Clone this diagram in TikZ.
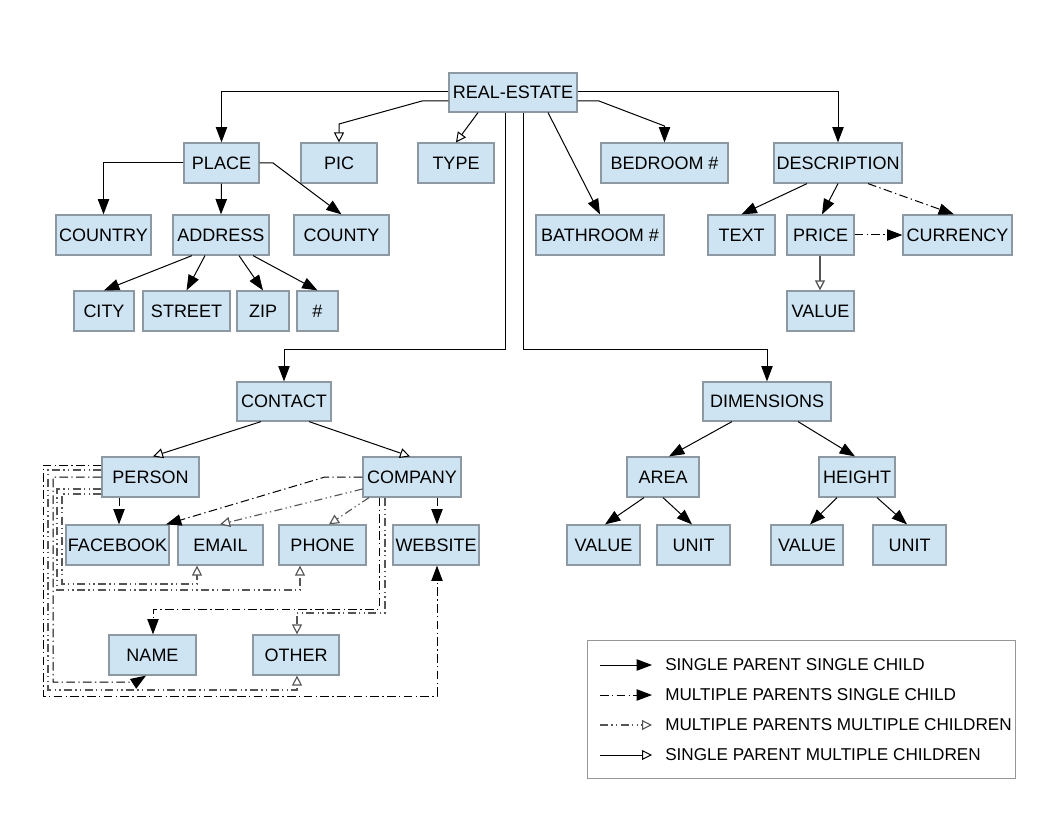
\documentclass[tikz,border=0pt]{standalone}
\usepackage{fontspec}
\setmainfont{Liberation Sans}
\usetikzlibrary{arrows.meta,calc}
\definecolor{boxfill}{RGB}{207,228,242}
\definecolor{boxline}{RGB}{140,152,162}
\definecolor{lgray}{RGB}{85,85,85}
\definecolor{legline}{RGB}{150,150,150}
\newcommand{\bx}[6]{\node[box, minimum width={(#4-#2)*0.75pt}, minimum height={(#5-#3)*0.75pt}] (#1) at ({(#2+#4)/2},{(#3+#5)/2}) {#6};}
\begin{document}
\begin{tikzpicture}[x=0.75pt,y=-0.75pt,
  box/.style={draw=boxline, fill=boxfill, line width=0.9pt, inner sep=0pt, font=\fontsize{13.5}{16}\selectfont},
  legtext/.style={anchor=west, inner sep=0pt, font=\fontsize{12.85}{15}\selectfont},
  fa/.style={-{Triangle[length=11.5pt,width=8.5pt]}},
  oa/.style={-{Triangle[length=7.5pt,width=7.5pt,fill=white]}},
  spsc/.style={draw=black, line width=0.75pt, fa},
  spmc/.style={draw=black, line width=0.75pt, oa},
  mpsc/.style={draw=black, line width=0.75pt, dash pattern=on 6.5pt off 2.5pt on 1pt off 2.5pt, fa},
  mpmc/.style={draw=lgray, line width=0.85pt, dash pattern=on 6pt off 2.5pt on 1pt off 2.5pt on 1pt off 2.5pt, oa},
]
\useasboundingbox (0,0) rectangle (1056,816);
\fill[white] (0,0) rectangle (1056,816);

% nodes
\bx{re}{449}{73}{577}{112}{REAL-ESTATE}
\bx{place}{184}{143}{259}{183}{PLACE}
\bx{pic}{301}{143}{377}{183}{PIC}
\bx{type}{418}{143}{494}{183}{TYPE}
\bx{bed}{601}{143}{728}{183}{BEDROOM \#}
\bx{desc}{774}{143}{902}{183}{DESCRIPTION}
\bx{country}{56}{215}{151}{255}{COUNTRY}
\bx{address}{173}{215}{269}{255}{ADDRESS}
\bx{county}{294}{215}{389}{255}{COUNTY}
\bx{bath}{536}{215}{664}{255}{BATHROOM \#}
\bx{text}{708}{215}{775}{255}{TEXT}
\bx{price}{787}{215}{854}{255}{PRICE}
\bx{currency}{903}{215}{1012}{255}{CURRENCY}
\bx{city}{74}{291}{134}{331}{CITY}
\bx{street}{143}{291}{230}{331}{STREET}
\bx{zip}{237}{291}{289}{331}{ZIP}
\bx{num}{297}{291}{338}{331}{\#}
\bx{pvalue}{787}{291}{854}{331}{VALUE}
\bx{contact}{237}{382}{331}{421}{CONTACT}
\bx{dim}{703}{382}{831}{421}{DIMENSIONS}
\bx{person}{102}{457}{199}{497}{PERSON}
\bx{company}{363}{457}{461}{497}{COMPANY}
\bx{area}{627}{457}{699}{497}{AREA}
\bx{height}{819}{457}{895}{497}{HEIGHT}
\bx{facebook}{66}{525}{169}{565}{FACEBOOK}
\bx{email}{178}{525}{263}{565}{EMAIL}
\bx{phone}{279}{525}{366}{565}{PHONE}
\bx{website}{393}{525}{479}{565}{WEBSITE}
\bx{avalue}{567}{525}{640}{565}{VALUE}
\bx{aunit}{657}{525}{730}{565}{UNIT}
\bx{hvalue}{771}{525}{843}{565}{VALUE}
\bx{hunit}{873}{525}{946}{565}{UNIT}
\bx{name}{109}{635}{196}{675}{NAME}
\bx{other}{253}{635}{339}{675}{OTHER}

% REAL-ESTATE connectors
\draw[spsc] (re.west |- 0,92) -| (place.north);
\draw[spmc] (re.west |- 0,101) -- (422,101) -- (pic.north |- 0,124) -- (pic.north);
\draw[spmc] (re.south -| 478,0) -- (type.north);
\draw[spsc] (re.south -| 548,0) -- (bath.north);
\draw[spsc] (re.east |- 0,101) -- (599,101) -- (bed.north |- 0,126) -- (bed.north);
\draw[spsc] (re.east |- 0,92) -| (desc.north);
\draw[spsc] (re.south -| 505,0) -- (505,350) -| (contact.north);
\draw[spsc] (re.south -| 523,0) -- (523,350) -| (dim.north);

% PLACE
\draw[spsc] (place.west) -| (country.north);
\draw[spsc] (place.south) -- (address.north);
\draw[spsc] (place.east) -- (273,163) -- (county.north);
\draw[spsc] (address.south -| 192,0) -- (city.north);
\draw[spsc] (address.south -| 205,0) -- (street.north);
\draw[spsc] (address.south -| 239,0) -- (zip.north);
\draw[spsc] (address.south -| 253,0) -- (num.north);

% DESCRIPTION
\draw[spsc] (desc.south -| 807,0) -- (text.north);
\draw[spsc] (desc.south -| 838,0) -- (price.north -| 822,0);
\draw[mpsc] (desc.south -| 868,0) -- (currency.north -| 954,0);
\draw[mpsc] (price.east) -- (currency.west);
\draw[spmc, draw=lgray, line width=1pt] (price.south -| 820,0) -- (pvalue.north -| 820,0);

% CONTACT
\draw[spmc] (contact.south -| 261,0) -- (person.north -| 153,0);
\draw[spmc] (contact.south -| 309,0) -- (company.north -| 410,0);

% DIMENSIONS
\draw[spsc] (dim.south -| 732,0) -- (area.north -| 669,0);
\draw[spsc] (dim.south -| 798,0) -- (height.north -| 855,0);
\draw[spsc] (area.south -| 644,0) -- (avalue.north -| 605,0);
\draw[spsc] (area.south -| 663,0) -- (aunit.north -| 692,0);
\draw[spsc] (height.south -| 837,0) -- (hvalue.north -| 810,0);
\draw[spsc] (height.south -| 877,0) -- (hunit.north -| 907,0);

% PERSON / COMPANY
\draw[mpsc] (person.south -| 119,0) -- (facebook.north -| 119,0);
\draw[mpsc] (company.west |- 0,477) -- (325,477) -- (facebook.north -| 166,0);
\draw[mpmc] (company.west |- 0,489) -- (email.north -| 220,0);
\draw[mpmc] (company.south -| 369,0) -- (phone.north -| 329,0);
\draw[mpsc] (company.south -| 437,0) -- (website.north -| 437,0);
\draw[mpsc] (company.south -| 379,0) |- (153,609) -- (name.north -| 153,0);
\draw[mpmc] (company.south -| 385,0) |- (297,613) -- (other.north -| 297,0);
\draw[mpmc] (person.west |- 0,494) -| (62,584) -| (email.south -| 197,0);
\draw[mpmc] (person.west |- 0,489) -| (57,590) -| (phone.south -| 300,0);
\draw[mpsc] (person.west |- 0,477) -| (53,682) -- (136,682) -- (name.south -| 146,0);
\draw[mpmc] (person.west |- 0,470) -| (48,690) -| (other.south -| 297,0);
\draw[mpsc] (person.west |- 0,465) -| (43,696) -| (website.south -| 437,0);

% legend
\node[draw=legline, line width=0.75pt, inner sep=0pt, minimum width={428*0.75pt}, minimum height={138*0.75pt}] (legend) at (801,709) {};
\coordinate (l1a) at (600,665); \coordinate (l1b) at (652,665);
\coordinate (l2a) at (600,695); \coordinate (l2b) at (652,695);
\coordinate (l3a) at (600,725); \coordinate (l3b) at (652,725);
\coordinate (l4a) at (600,755); \coordinate (l4b) at (652,755);
\draw[spsc] (l1a) -- (l1b);
\draw[mpsc] (l2a) -- (l2b);
\draw[mpmc] (l3a) -- (l3b);
\draw[spmc] (l4a) -- (l4b);
\node[legtext] (t1) at (665,665) {SINGLE PARENT SINGLE CHILD};
\node[legtext] (t2) at (665,695) {MULTIPLE PARENTS SINGLE CHILD};
\node[legtext] (t3) at (665,725) {MULTIPLE PARENTS MULTIPLE CHILDREN};
\node[legtext] (t4) at (665,755) {SINGLE PARENT MULTIPLE CHILDREN};
\end{tikzpicture}
\end{document}
